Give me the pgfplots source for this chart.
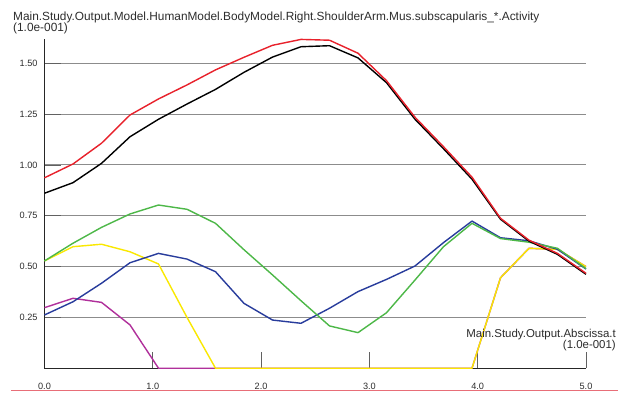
\documentclass[border=0pt]{standalone}
\usepackage{fontspec}
\setmainfont{Liberation Sans}
\usepackage{pgfplots}
\usepackage{pgfplotstable}
\pgfplotsset{compat=1.18}

\definecolor{cRed}{RGB}{232,33,43}
\definecolor{cGreen}{RGB}{77,184,72}
\definecolor{cBlue}{RGB}{40,60,156}
\definecolor{cYellow}{RGB}{250,232,0}
\definecolor{cMagenta}{RGB}{176,48,155}
\definecolor{cRule}{RGB}{232,110,120}
\definecolor{cText}{RGB}{45,45,45}

% muscle activity, t in units of 1.0e-001, 20 samples
\pgfplotstableread{
t      red    black  green  blue   yellow magenta
0.0000 0.937  0.861  0.528  0.262  0.528  0.298
0.2632 1.005  0.913  0.615  0.327  0.598  0.344
0.5263 1.107  1.008  0.693  0.418  0.610  0.324
0.7895 1.246  1.139  0.759  0.519  0.573  0.213
1.0526 1.325  1.225  0.803  0.565  0.513  0.000
1.3158 1.394  1.300  0.782  0.537  0.250  0.000
1.5789 1.468  1.372  0.713  0.475  0.000  0.000
1.8421 1.530  1.456  0.583  0.319  0.000  0.000
2.1053 1.589  1.531  0.459  0.237  0.000  0.000
2.3684 1.618  1.582  0.332  0.221  0.000  0.000
2.6316 1.614  1.587  0.208  0.295  0.000  0.000
2.8947 1.550  1.527  0.175  0.377  0.000  0.000
3.1579 1.415  1.405  0.273  0.437  0.000  0.000
3.4211 1.235  1.225  0.434  0.503  0.000  0.000
3.6842 1.090  1.080  0.598  0.618  0.000  0.000
3.9474 0.940  0.930  0.713  0.724  0.000  0.000
4.2105 0.738  0.733  0.638  0.642  0.445  0.445
4.4737 0.630  0.625  0.620  0.627  0.590  0.590
4.7368 0.565  0.560  0.590  0.585  0.585  0.585
5.0000 0.467  0.462  0.490  0.488  0.500  0.500
}\activity

\begin{document}
\begin{tikzpicture}[x=1bp,y=1bp]
\fill[white] (-44.5,-32.8) rectangle (577.5,368.2);
\useasboundingbox (-44.5,-32.8) rectangle (577.5,368.2);
\begin{axis}[
  at={(0,0)}, anchor=origin,
  width=541.5bp, height=329.2bp, scale only axis,
  xmin=0, xmax=5, ymin=0, ymax=1.62,
  clip=false,
  axis lines=left,
  axis line style={-, draw=black!85, line width=0.9bp},
  xtick={0,1,2,3,4,5},
  ytick={0.25,0.5,0.75,1.0,1.25,1.5},
  tick align=inside,
  major tick length=16bp,
  major tick style={draw=black!62, line width=0.9bp},
  ymajorgrids,
  major grid style={draw=black!45, line width=1bp},
  /pgf/number format/assume math mode=true,
  xticklabel style={anchor=base, inner sep=0pt, yshift=-21bp,
    font=\fontsize{9.2}{10}\selectfont, text=cText,
    /pgf/number format/fixed, /pgf/number format/fixed zerofill,
    /pgf/number format/precision=1},
  yticklabel style={anchor=east, inner sep=0pt, xshift=-6.8bp,
    font=\fontsize{9.2}{10}\selectfont, text=cText,
    /pgf/number format/fixed, /pgf/number format/fixed zerofill,
    /pgf/number format/precision=2},
  every axis plot/.append style={line width=1.4bp, line join=round},
]
\addplot[cMagenta] table[x=t, y=magenta] {\activity};
\addplot[cYellow]  table[x=t, y=yellow]  {\activity};
\addplot[cBlue]    table[x=t, y=blue]    {\activity};
\addplot[cGreen]   table[x=t, y=green]   {\activity};
\addplot[black]    table[x=t, y=black]   {\activity};
\addplot[cRed]     table[x=t, y=red]     {\activity};
\end{axis}
% captions
\begin{scope}[every node/.style={inner sep=0pt, text=cText}]
\node[anchor=base west, font=\fontsize{11.9}{13}\selectfont] at (-31.5,348.2) {Main.Study.Output.Model.HumanModel.BodyModel.Right.ShoulderArm.Mus.subscapularis\_*.Activity};
\node[anchor=base west, font=\fontsize{11.9}{13}\selectfont] at (-31.5,337.2) {(1.0e-001)};
\node[anchor=base east, font=\fontsize{11.5}{13}\selectfont] at (571.5,30.9) {Main.Study.Output.Abscissa.t};
\node[anchor=base east, font=\fontsize{11.5}{13}\selectfont] at (571.5,19.7) {(1.0e-001)};
\end{scope}
\draw[cRule, line width=1bp] (-33.5,-22.5) -- (573.5,-22.5);
\end{tikzpicture}
\end{document}
